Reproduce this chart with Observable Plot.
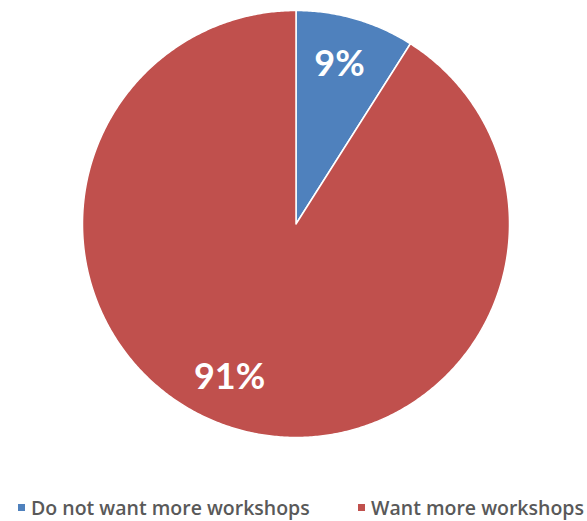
<!DOCTYPE html>
<html>
<head>
<meta charset="utf-8">
<script src="https://cdn.jsdelivr.net/npm/d3@7"></script>
<script src="https://cdn.jsdelivr.net/npm/@observablehq/plot@0.6"></script>
<style>
  html, body { margin: 0; padding: 0; background: #fff; }
  #chart { width: 587px; }
  .legend { position: relative; height: 40px; font-family: "Open Sans", sans-serif; font-size: 19.5px; font-weight: 600; color: #595959; }
  .item { position: absolute; top: 0; display: flex; align-items: center; white-space: nowrap; }
  .sw { width: 7px; height: 7px; margin-right: 6px; }
</style>
</head>
<body>
<div id="chart"></div>
<script>
const categories = ["Do not want more workshops", "Want more workshops"];
const values = [9, 91];
const labels = ["9%", "91%"];
const colors = ["#4F81BD", "#C0504D"];

const total = d3.sum(values);
let acc = 0;
const slices = categories.map((c, i) => {
  const a0 = acc / total * 2 * Math.PI;
  acc += values[i];
  const a1 = acc / total * 2 * Math.PI;
  const n = Math.max(2, Math.ceil((a1 - a0) / (Math.PI / 360)));
  const ring = [[0, 0]];
  for (let k = 0; k <= n; k++) {
    const a = a0 + (a1 - a0) * k / n;
    ring.push([Math.sin(a), Math.cos(a)]);
  }
  ring.push([0, 0]);
  const am = (a0 + a1) / 2;
  return {
    index: i,
    category: c,
    label: labels[i],
    feature: {type: "Feature", properties: {category: c}, geometry: {type: "Polygon", coordinates: [ring]}},
    lx: 0.78 * Math.sin(am),
    ly: 0.78 * Math.cos(am)
  };
});

const frame = {type: "Polygon", coordinates: [[[-1, -1], [1, -1], [1, 1], [-1, 1], [-1, -1]]]};
const textStyle = {x: "lx", y: "ly", text: "label", fill: "white", fontSize: 36, fontWeight: "bold", fontFamily: "Lato"};

const plot = Plot.plot({
  width: 587,
  height: 448,
  marginTop: 10,
  marginBottom: 11,
  marginLeft: 82,
  marginRight: 78,
  projection: {type: "reflect-y", domain: frame},
  color: {domain: categories, range: colors},
  marks: [
    Plot.geo(slices, {geometry: d => d.feature, fill: "category", stroke: "white", strokeWidth: 1.5}),
    Plot.text(slices.filter(d => d.index === 0), {...textStyle, dx: -3}),
    Plot.text(slices.filter(d => d.index === 1), {...textStyle, dx: -20, dy: -6})
  ]
});
document.getElementById("chart").appendChild(plot);

const legend = document.createElement("div");
legend.className = "legend";
legend.style.marginTop = "46px";
const lefts = [18, 358];
categories.forEach((c, i) => {
  const it = document.createElement("div");
  it.className = "item";
  it.style.left = lefts[i] + "px";
  const sw = document.createElement("span");
  sw.className = "sw";
  sw.style.background = colors[i];
  const tx = document.createElement("span");
  tx.textContent = c;
  it.appendChild(sw); it.appendChild(tx);
  legend.appendChild(it);
});
document.getElementById("chart").appendChild(legend);
</script>
</body>
</html>
